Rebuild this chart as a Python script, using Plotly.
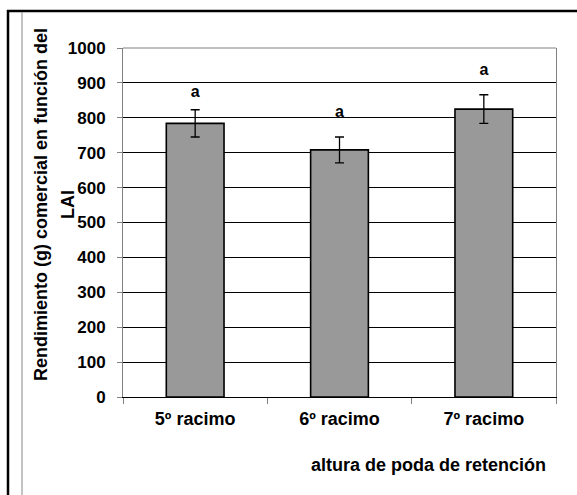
import plotly.graph_objects as go

categories = ["5º racimo", "6º racimo", "7º racimo"]
rendimiento = [784, 708, 825]
error = [39, 37, 41]
letters = ["a", "a", "a"]
letter_y = [872, 815, 934]
y_ticks = [0, 100, 200, 300, 400, 500, 600, 700, 800, 900, 1000]
y_title_lines = ["Rendimiento (g) comercial en función del", "LAI"]
x_title = "altura de poda de retención"

W, H = 577, 495
L, R, T, B = 123, 21, 48, 98
PW, PH = W - L - R, H - T - B

def px(x):
    return (x - L) / PW

def py(y):
    return (H - B - y) / PH

FONT = "Arial, Liberation Sans, sans-serif"

fig = go.Figure()
fig.add_trace(go.Bar(
    x=categories, y=rendimiento, width=0.4,
    marker=dict(color="#999999", line=dict(color="black", width=1.6)),
    error_y=dict(type="data", array=error, color="black", thickness=1.3, width=4.5),
    hoverinfo="skip",
))
fig.add_trace(go.Scatter(
    x=categories, y=letter_y, mode="text", text=letters,
    texttemplate="<b>%{text}</b>",
    textfont=dict(family=FONT, size=16, color="black"),
    textposition="middle center", hoverinfo="skip",
))

# outer frame decorations
fig.add_shape(type="line", xref="paper", yref="paper", x0=px(8), x1=px(8), y0=py(10), y1=py(H + 5),
              line=dict(color="black", width=2.5))
fig.add_shape(type="line", xref="paper", yref="paper", x0=px(7), x1=px(W + 5), y0=py(11), y1=py(11),
              line=dict(color="black", width=2.5))
fig.add_shape(type="line", xref="paper", yref="paper", x0=px(22), x1=px(22), y0=py(12), y1=py(H + 5),
              line=dict(color="#888888", width=1))
# grey top edge of plot area
fig.add_shape(type="line", xref="paper", yref="paper", x0=0, x1=1, y0=1, y1=1,
              line=dict(color="#808080", width=1))

for xc, line in zip([41, 68], y_title_lines):
    fig.add_annotation(text="<b>" + line + "</b>",
                       xref="paper", yref="paper", x=px(xc), y=py(205), textangle=-90,
                       showarrow=False, font=dict(family=FONT, size=18, color="black"),
                       xanchor="center", yanchor="middle")
fig.add_annotation(text="<b>" + x_title + "</b>",
                   xref="paper", yref="paper", x=px(428), y=py(465),
                   showarrow=False, font=dict(family=FONT, size=18, color="black"),
                   xanchor="center", yanchor="middle")

fig.update_layout(
    width=W, height=H,
    margin=dict(l=L, r=R, t=T, b=B),
    paper_bgcolor="white", plot_bgcolor="white",
    showlegend=False,
    font=dict(family=FONT, size=17, color="black"),
    bargap=0.6,
)
fig.update_xaxes(
    type="category", showline=True, linecolor="black", linewidth=1.2, mirror=False,
    ticks="outside", tickson="boundaries", ticklen=6, tickcolor="#808080",
    tickvals=categories, ticktext=["<b>" + c + "</b>" for c in categories],
    tickfont=dict(family=FONT, size=18, color="black"),
    ticklabelstandoff=5,
    showgrid=False,
)
fig.update_yaxes(
    range=[0, 1000], tickvals=y_ticks,
    ticktext=["<b>" + str(v) + "</b>" for v in y_ticks],
    showline=True, linecolor="#808080", linewidth=1, mirror=True,
    ticks="outside", ticklen=5, tickcolor="#808080",
    tickfont=dict(family=FONT, size=17, color="black"),
    ticklabelstandoff=8,
    showgrid=True, gridcolor="black", gridwidth=1, zeroline=False,
)

fig.write_html("out.html", config={"displayModeBar": False},
               post_script="document.body.style.margin='0';")
